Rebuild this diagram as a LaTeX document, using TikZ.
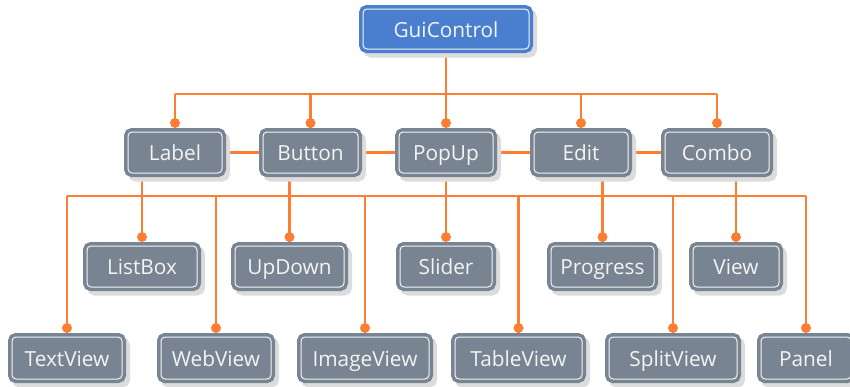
\documentclass[tikz,border=0pt]{standalone}
\usepackage{fontspec}
\setmainfont{Open Sans}
\usetikzlibrary{backgrounds,calc}
\definecolor{lineor}{HTML}{FD7E33}
\definecolor{boxgray}{HTML}{788491}
\definecolor{boxblue}{HTML}{4A7FCF}
\definecolor{shadowgray}{HTML}{DCDCDC}
\definecolor{txtwhite}{HTML}{F4F4F4}
\tikzset{
  box/.style={rectangle, rounded corners=4pt, fill=#1, draw=#1, line width=8pt,
    outer sep=4pt, inner sep=0pt, text=txtwhite,
    text height=16.6pt, text depth=0pt,
    font=\fontsize{20.8}{24}\selectfont,
    preaction={fill=shadowgray, draw=shadowgray, line width=8pt,
      transform canvas={shift={(4pt,-4.5pt)}}},
    postaction={draw=txtwhite, line width=1pt}},
  box/.default=boxgray,
  conn/.style={draw=lineor, line width=2.8pt},
  dotc/.style={fill=lineor}
}
\newcommand{\conndot}[1]{\fill[dotc] ($(#1.north)+(0,-5)$) circle (5);}
\begin{document}
\begin{tikzpicture}[x=1pt,y=-1pt]
\useasboundingbox (0,0) rectangle (850,386);
% top
\node[box=boxblue, minimum width=166, minimum height=40] (gui) at (446,29) {GuiControl};
% row 2
\node[box, minimum width=94, minimum height=41] (label) at (175,152.5) {Label};
\node[box, minimum width=95, minimum height=41] (button) at (310.5,152.5) {Button};
\node[box, minimum width=94, minimum height=41] (popup) at (446,152.5) {PopUp};
\node[box, minimum width=94, minimum height=41] (edit) at (581,152.5) {Edit};
\node[box, minimum width=104, minimum height=41] (combo) at (717,152.5) {Combo};
% row 3
\node[box, minimum width=110, minimum height=41] (listbox) at (142,266.5) {ListBox};
\node[box, minimum width=109, minimum height=41] (updown) at (289.5,266.5) {UpDown};
\node[box, minimum width=92, minimum height=41] (slider) at (446,266.5) {Slider};
\node[box, minimum width=103, minimum height=41] (progress) at (602.5,266.5) {Progress};
\node[box, minimum width=86, minimum height=41] (view) at (736,266.5) {View};
% row 4
\node[box, minimum width=110, minimum height=42] (textview) at (67,358) {TextView};
\node[box, minimum width=110, minimum height=42] (webview) at (216,358) {WebView};
\node[box, minimum width=128, minimum height=42] (imageview) at (365,358) {ImageView};
\node[box, minimum width=127, minimum height=42] (tableview) at (518.5,358) {TableView};
\node[box, minimum width=128, minimum height=42] (splitview) at (673,358) {SplitView};
\node[box, minimum width=90, minimum height=42] (panel) at (806,358) {Panel};
\coordinate (bus1) at (0,94);
\coordinate (bus2) at (0,196);
\begin{pgfonlayer}{background}
  % top level
  \draw[conn] (gui.south) -- (popup.north);
  \draw[conn] (label.north |- bus1) -- (combo.north |- bus1);
  \foreach \n in {label,button,edit,combo}
    {\draw[conn] (\n.north |- bus1) -- (\n.north);}
  % row 2 links
  \draw[conn] (label.east) -- (button.west);
  \draw[conn] (button.east) -- (popup.west);
  \draw[conn] (popup.east) -- (edit.west);
  \draw[conn] (edit.east) -- (combo.west);
  % row 2 to row 3
  \draw[conn] (listbox.north |- label.south) -- (listbox.north);
  \draw[conn] (updown.north |- button.south) -- (updown.north);
  \draw[conn] (slider.north |- popup.south) -- (slider.north);
  \draw[conn] (progress.north |- edit.south) -- (progress.north);
  \draw[conn] (view.north |- combo.south) -- (view.north);
  % bus 2
  \draw[conn] (textview.north |- bus2) -- (panel.north |- bus2);
  \foreach \n in {textview,webview,imageview,tableview,splitview,panel}
    {\draw[conn] (\n.north |- bus2) -- (\n.north);}
\end{pgfonlayer}
\foreach \n in {label,button,popup,edit,combo,listbox,updown,slider,progress,view,textview,webview,imageview,tableview,splitview,panel}
  {\conndot{\n}}
\end{tikzpicture}
\end{document}
